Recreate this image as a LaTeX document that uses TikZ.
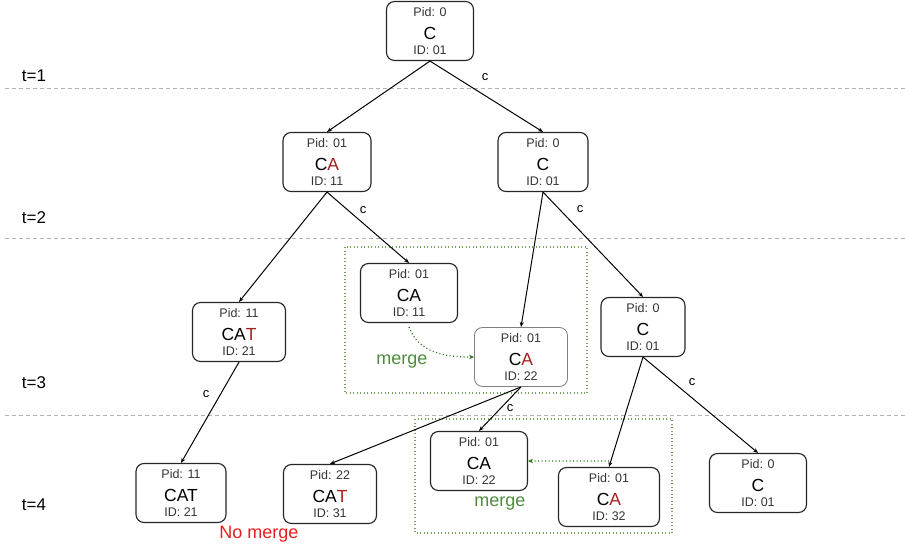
\documentclass[tikz,border=0pt]{standalone}
\usepackage{fontspec}
\setmainfont{Liberation Sans}
\usetikzlibrary{arrows.meta}
\definecolor{newchar}{RGB}{166,28,28}
\definecolor{nomerge}{RGB}{232,30,30}
\definecolor{mergetext}{RGB}{80,140,60}
\definecolor{mergedots}{RGB}{120,160,90}
\definecolor{mergegreen}{RGB}{40,120,20}
\newcommand{\cellbox}[3]{#1\\[8pt]{\fontsize{17.5}{18}\selectfont\color{black}#2}\\#3}
\tikzset{
	state/.style={draw=black!85, line width=0.4mm, rounded corners=8pt, minimum height=59pt, align=center, inner sep=2pt, font=\fontsize{12.5}{15}\selectfont, text=black!80},
	edge/.style={line width=0.35mm, -{Stealth[length=5pt, width=4pt]}},
	lab/.style={font=\fontsize{13}{13}\selectfont},
	tlab/.style={font=\fontsize{17}{17}\selectfont},
	timeline/.style={dash pattern=on 4pt off 3pt, line width=0.3mm, color=gray!60},
	mergebox/.style={dash pattern=on 1pt off 2.5pt, line width=0.4mm, color=mergedots},
	mergearrow/.style={dash pattern=on 1pt off 2.5pt, line width=0.45mm, color=mergegreen, -{Stealth[length=5pt, width=4.5pt]}},
	mergelab/.style={font=\fontsize{18}{18}\selectfont, text=mergetext}
}

\begin{document}
\begin{tikzpicture}[x=1pt, y=-1pt]
			%%%%% START %%%%%
			\useasboundingbox (0, 0) rectangle (905, 550);
			
			\draw[timeline] (5, 88) -- (905, 88);
			\draw[timeline] (5, 238) -- (905, 238);
			\draw[timeline] (5, 415) -- (905, 415);
			
			\node[tlab] (t1) at (34, 76) {t=1};
			\node[tlab] (t2) at (34, 218) {t=2};
			\node[tlab] (t3) at (34, 383) {t=3};
			\node[tlab] (t4) at (34, 505) {t=4};
			
			\draw[mergebox] (345, 247) rectangle (587, 393);
			\draw[mergebox] (415, 419) rectangle (672, 533);
			
			\node[state, minimum width=87pt] (root) at (430, 31) {\cellbox{Pid: 0}{C}{ID: 01}};
			
			\node[state, minimum width=88pt] (ca1) at (327, 162) {\cellbox{Pid: 01}{C\textcolor{newchar}{A}}{ID: 11}};
			\node[state, minimum width=90pt] (c1) at (543, 162) {\cellbox{Pid: 0}{C}{ID: 01}};
			
			\node[state, minimum width=97pt] (ca2) at (409, 293) {\cellbox{Pid: 01}{CA}{ID: 11}};
			\node[state, minimum width=93pt] (cat2) at (239, 332) {\cellbox{Pid: 11}{CA\textcolor{newchar}{T}}{ID: 21}};
			\node[state, minimum width=93pt, draw=black!50, line width=0.3mm] (ca3) at (521, 357) {\cellbox{Pid: 01}{C\textcolor{newchar}{A}}{ID: 22}};
			\node[state, minimum width=84pt] (c2) at (643, 327) {\cellbox{Pid: 0}{C}{ID: 01}};
			
			\node[state, minimum width=90pt] (cat4a) at (181, 493) {\cellbox{Pid: 11}{CAT}{ID: 21}};
			\node[state, minimum width=93pt] (cat4b) at (330, 494) {\cellbox{Pid: 22}{CA\textcolor{newchar}{T}}{ID: 31}};
			\node[state, minimum width=97pt] (ca4a) at (479, 461) {\cellbox{Pid: 01}{CA}{ID: 22}};
			\node[state, minimum width=101pt] (ca4b) at (609, 497) {\cellbox{Pid: 01}{C\textcolor{newchar}{A}}{ID: 32}};
			\node[state, minimum width=97pt] (c4) at (758, 483) {\cellbox{Pid: 0}{C}{ID: 01}};
			
			\draw[edge] (root.south) -- (ca1.north);
			\draw[edge] (root.south) -- (c1.north);
			\draw[edge] (ca1.south) -- (cat2.north);
			\draw[edge] (ca1.south) -- (ca2.north);
			\draw[edge] (c1.south) -- (ca3.north);
			\draw[edge] (c1.south) -- (c2.north);
			\draw[edge] (cat2.south) -- (cat4a.north);
			\draw[edge] (ca3.south) -- (cat4b.north);
			\draw[edge] (ca3.south) -- (ca4a.north);
			\draw[edge] (c2.south) -- (ca4b.north);
			\draw[edge] (c2.south) -- (c4.north);
			
			\node[lab] (l1) at (485, 77) {c};
			\node[lab] (l2) at (363, 210) {c};
			\node[lab] (l3) at (580, 209) {c};
			\node[lab] (l4) at (206, 394) {c};
			\node[lab] (l5) at (510, 408) {c};
			\node[lab] (l6) at (692, 382) {c};
			
			\draw[mergearrow] ([yshift=-4pt]ca2.south) to[out=-70, in=180] (ca3.west);
			\draw[mergearrow] ([yshift=6pt]ca4b.north) -- (ca4a.east);
			
			\node[mergelab] (m1) at (402, 362) {merge};
			\node[mergelab] (m2) at (500, 504) {merge};
			\node[mergelab, text=nomerge] (nm) at (259, 534) {No merge};
			
			%%%%% END %%%%%
\end{tikzpicture}
\end{document}
